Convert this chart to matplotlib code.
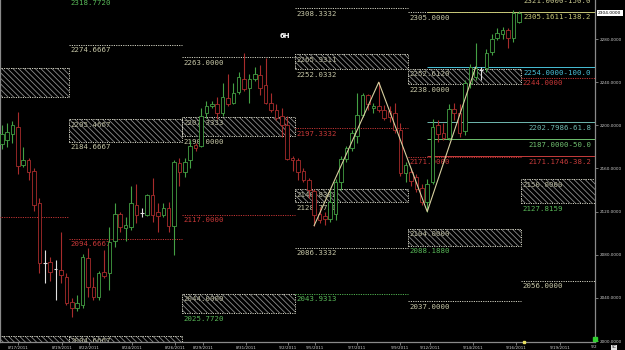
import matplotlib
matplotlib.use('Agg')
import matplotlib.pyplot as plt
from matplotlib.patches import Rectangle
from matplotlib.transforms import Bbox, TransformedBbox

# 6H bars, 8/17/2011 .. 9/16/2011
opens = [2183, 2186, 2192, 2198, 2163, 2168, 2158, 2128, 2072, 2073,
         2067, 2066, 2059, 2036, 2031, 2033, 2077, 2050, 2041, 2064,
         2063, 2093, 2118, 2105, 2106, 2126, 2119, 2117, 2135, 2120,
         2117, 2123, 2107, 2165, 2157, 2168, 2182, 2181, 2211, 2218,
         2220, 2211, 2225, 2221, 2231, 2243, 2235, 2243, 2247, 2237,
         2221, 2214, 2209, 2200, 2170, 2168, 2158, 2149, 2139, 2118,
         2116, 2113, 2118, 2147, 2169, 2179, 2190, 2210, 2228, 2216,
         2218, 2214, 2213, 2211, 2196, 2156, 2157, 2152, 2142, 2129,
         2147, 2200, 2193, 2188, 2215, 2211, 2195, 2239, 2245, 2251,
         2253, 2268, 2281, 2285, 2288, 2281, 2296]
highs = [2200, 2202, 2204, 2212, 2180, 2170, 2160, 2133, 2084, 2078,
         2075, 2101, 2063, 2040, 2043, 2081, 2086, 2059, 2065, 2084,
         2106, 2128, 2120, 2115, 2144, 2146, 2123, 2136, 2151, 2128,
         2128, 2129, 2168, 2170, 2170, 2186, 2184, 2216, 2223, 2223,
         2226, 2239, 2248, 2239, 2249, 2267, 2248, 2254, 2256, 2262,
         2230, 2220, 2216, 2209, 2172, 2170, 2160, 2151, 2141, 2124,
         2120, 2140, 2150, 2172, 2181, 2196, 2230, 2230, 2229, 2221,
         2240, 2219, 2218, 2221, 2202, 2166, 2160, 2155, 2146, 2150,
         2206, 2205, 2202, 2220, 2221, 2220, 2242, 2257, 2276, 2254,
         2271, 2285, 2290, 2291, 2290, 2307, 2306]
lows = [2178, 2180, 2184, 2155, 2161, 2149, 2121, 2063, 2054, 2056,
        2038, 2054, 2033, 2022, 2028, 2031, 2041, 2038, 2038, 2058,
        2047, 2087, 2101, 2093, 2103, 2109, 2115, 2116, 2110, 2101,
        2115, 2101, 2080, 2144, 2152, 2160, 2176, 2180, 2207, 2216,
        2206, 2209, 2218, 2220, 2229, 2232, 2221, 2241, 2228, 2220,
        2212, 2205, 2189, 2168, 2158, 2149, 2147, 2133, 2107, 2109,
        2108, 2110, 2112, 2140, 2166, 2176, 2184, 2208, 2214, 2211,
        2212, 2205, 2203, 2193, 2153, 2147, 2144, 2138, 2126, 2120,
        2146, 2185, 2186, 2186, 2205, 2189, 2191, 2235, 2242, 2242,
        2249, 2265, 2279, 2280, 2272, 2277, 2295]
closes = [2192, 2194, 2200, 2162, 2168, 2157, 2126, 2072, 2072, 2064,
          2067, 2061, 2035, 2031, 2035, 2078, 2050, 2041, 2063, 2060,
          2092, 2118, 2106, 2108, 2128, 2117, 2119, 2135, 2117, 2116,
          2123, 2107, 2166, 2157, 2166, 2181, 2179, 2209, 2218, 2219.5,
          2211, 2226, 2220, 2230, 2245, 2234, 2242.5, 2248, 2235, 2221,
          2214, 2207, 2200, 2169, 2168, 2157, 2149, 2140, 2117, 2112,
          2113, 2129, 2147, 2169, 2179, 2193, 2210, 2228, 2220, 2218,
          2214, 2207, 2208, 2196, 2156, 2163, 2148, 2141, 2129, 2146,
          2198, 2192, 2188, 2215, 2211, 2193, 2239, 2254, 2253, 2251,
          2267, 2280, 2286, 2288, 2281, 2304, 2304]
doji_bars = [8, 10, 26, 89]

date_labels = ['8/17/2011', '8/19/2011', '8/22/2011', '8/24/2011', '8/26/2011',
               '8/29/2011', '8/31/2011', '9/2/2011', '9/5/2011', '9/7/2011',
               '9/9/2011', '9/12/2011', '9/14/2011', '9/16/2011', '9/19/2011']
date_bars = [3.0, 11.2, 16.2, 24.2, 32.2, 37.4, 45.4, 53.2, 58.2, 66.0,
             74.0, 79.5, 87.5, 95.5, 103.7]

# weekly level blocks (bar ranges)
seg_start = [-8.5, 12.5, 33.5, 54.5, 75.5, 96.5]
seg_end = [12.5, 33.5, 54.5, 75.5, 96.5, 117.5]

# single dotted levels
line_seg = [1, 1, 1, 0, 2, 2, 3, 3, 3, 3, 4, 4, 4, 5, 5]
line_price = [2318.772, 2274.6667, 2094.6667, 2115.0, 2263.0, 2117.0,
              2308.3332, 2197.3332, 2086.3332, 2043.9313,
              2305.0, 2171.0, 2037.0, 2244.0, 2056.0]
line_label = ['2318.7720', '2274.6667', '2094.6667', None, '2263.0000', '2117.0000',
              '2308.3332', '2197.3332', '2086.3332', '2043.9313',
              '2305.0000', '2171.0000', '2037.0000', '2244.0000', '2056.0000']
line_kind = ['g', 'w', 'r', 'r', 'w', 'r', 'w', 'r', 'w', 'g', 'w', 'r', 'w', 'r', 'w']

# hatched zones
zone_seg = [0, 0, 1, 1, 2, 2, 3, 3, 4, 4, 5]
zone_low = [2225.9, 1990.0, 2184.6667, 1990.0, 2190.0, 2025.772,
            2252.0332, 2128.772, 2238.0, 2088.188, 2127.8159]
zone_high = [2252.8, 2004.6, 2205.4667, 2004.6667, 2207.3333, 2044.0,
             2265.9311, 2140.8332, 2252.612, 2104.0, 2150.0]
zone_top_label = [None, None, '2205.4667', '2004.6667', '2207.3333', '2044.0000',
                  '2265.9311', '2140.8332', '2252.6120', '2104.0000', '2150.0000']
zone_bot_label = [None, None, '2184.6667', None, '2190.0000', '2025.7720',
                  '2252.0332', '2128.7720', '2238.0000', '2088.1880', '2127.8159']
zone_bot_kind = ['w', 'w', 'w', 'w', 'w', 'g', 'w', 'w', 'w', 'g', 'g']

# AB=CD projection
zz_bars = [58, 70, 79, 88]
zz_prices = [2107, 2240, 2120, 2254]
fib_start = 79
fib_price = [2321.0, 2305.1611, 2254.0, 2202.7986, 2187.0, 2171.1746]
fib_label = ['2321.0000-150.0', '2305.1611-138.2', '2254.0000-100.0',
             '2202.7986-61.8', '2187.0000-50.0', '2171.1746-38.2']
fib_color = ['#c8c890', '#c8c878', '#48c0d8', '#70b8b0', '#70c070', '#c83c3c']

last_price = 2304.0

COL = {'w': '#d0d0c0', 'g': '#50b050', 'r': '#c03434'}
TXT = {'w': '#c8c8a8', 'g': '#58b858', 'r': '#c83838'}
UP = '#44a044'
DN = '#a82c2c'
MONO = 'DejaVu Sans Mono'
DOT = (0, (1.2, 1.2))

plt.rcParams['hatch.linewidth'] = 0.6

fig = plt.figure(figsize=(6.25, 3.5), dpi=100, facecolor='black')
ax = fig.add_axes([0, 8 / 350, 595 / 625, 342 / 350])
ax.set_facecolor('black')
ax.set_xlim(-0.32, 110.15)
ax.set_ylim(1999.1, 2316.2)


def label(x, y, text, color, dx=1, dy=-2.5, ha='left', z=4):
    ax.annotate(text, xy=(x, y), xytext=(dx, dy), textcoords='offset pixels',
                ha=ha, va='top', color=color, fontsize=5.3, family=MONO,
                annotation_clip=False, clip_on=True, zorder=z)


# zones
for s, lo, hi, tl, bl, bk in zip(zone_seg, zone_low, zone_high,
                                 zone_top_label, zone_bot_label, zone_bot_kind):
    x0, x1 = seg_start[s], seg_end[s]
    if tl:
        label(x0, hi, tl, TXT['w'], z=1)
    ax.add_patch(Rectangle((x0, lo), x1 - x0, hi - lo, facecolor='none',
                           edgecolor='#8c8c8c', hatch='\\' * 6, lw=0, zorder=2))
    ax.add_patch(Rectangle((x0, lo), x1 - x0, hi - lo, fill=False,
                           edgecolor=COL['w'], lw=0.7, linestyle=DOT, zorder=2))
    if bl:
        label(x0, lo, bl, TXT[bk])

# level lines
for s, p, t, k in zip(line_seg, line_price, line_label, line_kind):
    x0, x1 = seg_start[s], seg_end[s]
    ax.hlines(p, x0, x1, colors=COL[k], lw=0.7, linestyles=DOT, zorder=3)
    if t:
        label(x0, p, t, TXT[k])

# fib extension lines
for p, t, c in zip(fib_price, fib_label, fib_color):
    ax.hlines(p, fib_start, 110.15, colors=c, lw=0.7, zorder=3)
    label(110.15, p, t, c, dx=-4, dy=-3.5 if p > 2316 else -2.5, ha='right')

# candles
w = 0.66
for i, (o, h, l, c) in enumerate(zip(opens, highs, lows, closes)):
    if i in doji_bars:
        ax.vlines(i, l, h, colors='#e0e0e0', lw=0.8, zorder=5)
        ax.hlines(c, i - 0.35, i + 0.35, colors='#e0e0e0', lw=0.8, zorder=5)
        continue
    col = UP if c >= o else DN
    ax.vlines(i, l, h, colors=col, lw=0.8, zorder=5)
    ax.add_patch(Rectangle((i - w / 2, min(o, c)), w, max(abs(c - o), 0.6),
                           facecolor='black', edgecolor=col, lw=0.6, zorder=6))

# zigzag
ax.plot(zz_bars, zz_prices, color='#d8d0a0', lw=0.8, zorder=7)

ax.text(0.4795, 0.894, '6H', transform=ax.transAxes, color='white',
        fontsize=5, fontweight='bold', ha='center', va='center', zorder=8)

# axes
ax.spines['top'].set_visible(False)
for side in ['left', 'right', 'bottom']:
    ax.spines[side].set_color('#8a8a8a')
    ax.spines[side].set_linewidth(0.9)
ax.yaxis.tick_right()
yt = list(range(2000, 2281, 40))
ax.set_yticks(yt)
ax.set_yticklabels(['%.4f' % v for v in yt])
ax.tick_params(axis='y', colors='#8a8a8a', labelcolor='#d0d0d0', labelsize=3,
               length=2, width=0.6, pad=1.5)
ax.set_xticks(date_bars)
ax.set_xticklabels(date_labels)
ax.tick_params(axis='x', colors='#8a8a8a', labelcolor='#d0d0d0', labelsize=3,
               length=2, width=0.6, pad=1)

t = fig.text(591 / 625, 3.5 / 350, '9/21/2011', color='#d0d0d0', fontsize=3,
             ha='left', va='center')
t.set_clip_box(TransformedBbox(Bbox([[0, 0], [597 / 625, 1]]), fig.transFigure))
t.set_clip_on(True)

# last price box
ax.annotate('%.4f' % last_price, xy=(1, last_price), xycoords=('axes fraction', 'data'),
            xytext=(3, 0), textcoords='offset pixels', ha='left', va='center',
            fontsize=3.2, color='black', annotation_clip=False,
            bbox=dict(boxstyle='square,pad=0.3', fc='white', ec='white', lw=0))

# markers on the bottom edge
ax.plot([97], [0.0], marker='s', ms=1.6, color='#e8e060', transform=ax.get_xaxis_transform(),
        clip_on=False, zorder=9)
ax.plot([1.0], [0.01], marker='s', ms=3, color='#30d030', transform=ax.transAxes,
        clip_on=False, zorder=9)
fig.text(614 / 625, 2.5 / 350, 'SC', color='black', fontsize=2.6, ha='center', va='center',
         bbox=dict(boxstyle='square,pad=0.2', fc='#e0e0e0', ec='none'))

fig.savefig('out.png', dpi=100, facecolor='black')
